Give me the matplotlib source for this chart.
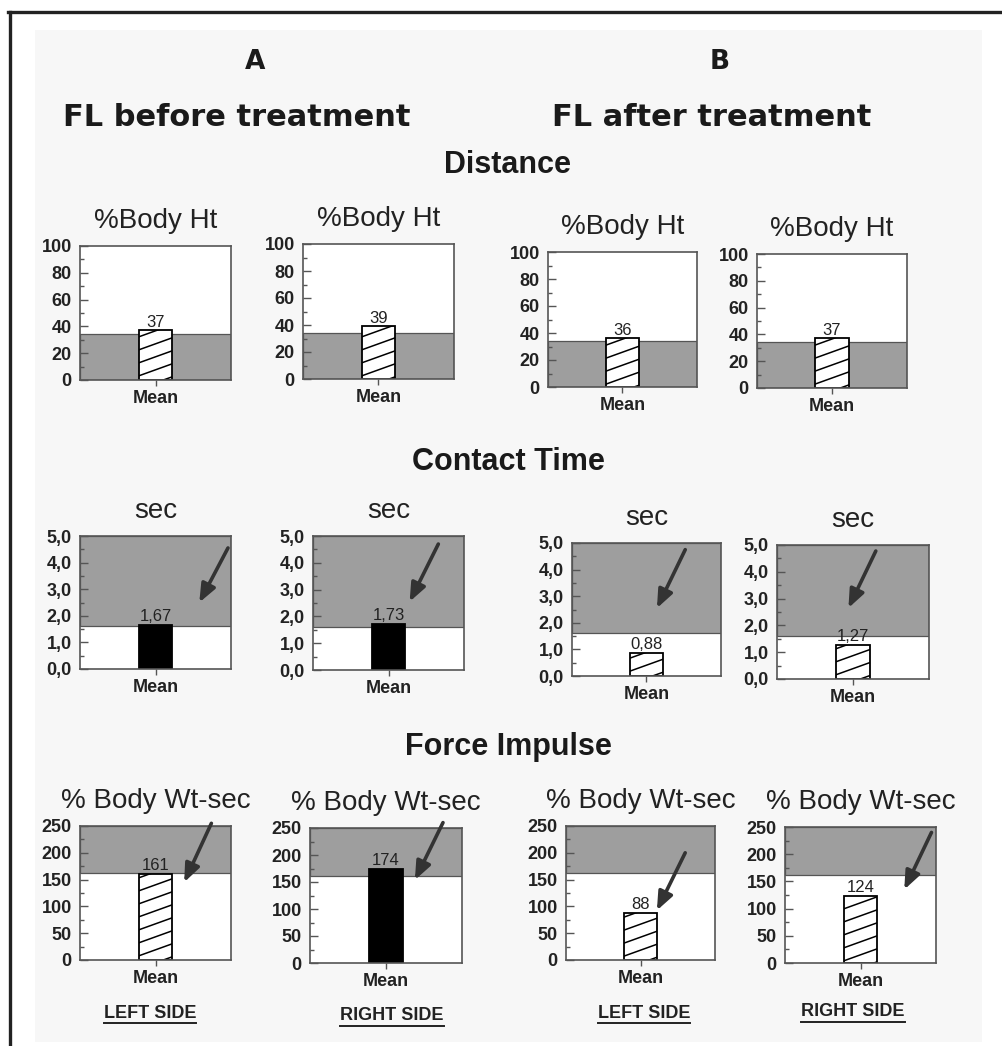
import numpy as np
import matplotlib
matplotlib.use('Agg')
import matplotlib.pyplot as plt
from matplotlib.ticker import MultipleLocator, FuncFormatter
from matplotlib.lines import Line2D
from matplotlib.patches import Rectangle

plt.rcParams['font.family'] = ['Liberation Sans', 'DejaVu Sans']

# data (columns: A left, A right, B left, B right)
distance_means = [37, 39, 36, 37]
contact_means = [1.67, 1.73, 0.88, 1.27]
impulse_means = [161, 174, 88, 124]

distance_normal = (0, 34)
contact_normal = (1.6, 5.0)
impulse_normal = (162, 250)

distance_solid = [False, False, False, False]
contact_solid = [True, True, False, False]
impulse_solid = [False, True, False, False]

metric_names = ['Distance', 'Contact Time', 'Force Impulse']
unit_labels = ['%Body Ht', 'sec', '% Body Wt-sec']
side_labels = ['LEFT SIDE', 'RIGHT SIDE', 'LEFT SIDE', 'RIGHT SIDE']

W, H = 1003, 1046
fig = plt.figure(figsize=(W / 100, H / 100), dpi=100)
fig.patch.set_facecolor('white')

# light scan background + frame lines
fig.add_artist(Rectangle((35 / W, 1 - 1042 / H), (982 - 35) / W, (1042 - 30) / H,
                         transform=fig.transFigure, fc='#f7f7f7', ec='none', zorder=-10))
fig.add_artist(Line2D([8 / W, 1], [1 - 12 / H] * 2, color='#222222', lw=2.4))
fig.add_artist(Line2D([10 / W] * 2, [1 - 12 / H, 0], color='#222222', lw=2.4))

# axes boxes in pixels (x0, top, x1, bottom)
boxes = [
    [(80, 246, 231, 380), (303, 244, 454, 379), (548, 252, 697, 387), (757, 254, 907, 388)],
    [(80, 536, 231, 669), (313, 536, 464, 670), (572, 543, 721, 676), (777, 545, 929, 679)],
    [(80, 826, 231, 960), (310, 828, 462, 963), (566, 826, 715, 960), (785, 827, 936, 963)],
]

# arrow (tail, head) in axes fraction
arrows = [
    [None, None, None, None],
    [((0.98, 0.91), (0.79, 0.50)), ((0.83, 0.94), (0.64, 0.51)),
     ((0.76, 0.95), (0.57, 0.51)), ((0.65, 0.955), (0.47, 0.53))],
    [((0.87, 1.02), (0.69, 0.58)), ((0.875, 1.04), (0.69, 0.615)),
     ((0.80, 0.80), (0.61, 0.37)), ((0.97, 0.96), (0.79, 0.54))],
]

rows = [
    (distance_means, distance_normal, distance_solid, 100, 20, 10,
     lambda v: f'{v:.0f}', lambda v, p: f'{v:.0f}'),
    (contact_means, contact_normal, contact_solid, 5.0, 1.0, 0.5,
     lambda v: f'{v:.2f}'.replace('.', ','), lambda v, p: f'{v:.1f}'.replace('.', ',')),
    (impulse_means, impulse_normal, impulse_solid, 250, 50, 25,
     lambda v: f'{v:.0f}', lambda v, p: f'{v:.0f}'),
]

gray = '#9e9e9e'


def px_axes(x0, y0, x1, y1):
    return fig.add_axes([x0 / W, 1 - y1 / H, (x1 - x0) / W, (y1 - y0) / H])


def hatch_bar(ax, bar, box, spacing_px=13, slope_px=0.36):
    w_px = box[2] - box[0]
    h_px = box[3] - box[1]
    slope = slope_px * w_px / h_px
    step = spacing_px / h_px
    for y0 in np.arange(-1.0, 1.2, step):
        ln = Line2D([0, 1], [y0, y0 + slope], transform=ax.transAxes,
                    color='black', lw=1.1, zorder=4)
        ax.add_line(ln)
        ln.set_clip_path(bar)


for r, (means, normal, solid, ymax, major, minor, vfmt, tfmt) in enumerate(rows):
    for c in range(4):
        box = boxes[r][c]
        ax = px_axes(*box)
        ax.set_facecolor('white')
        ax.axhspan(normal[0], normal[1], fc=gray, ec='#555555', lw=0.9, zorder=0)
        bar = ax.bar(0, means[c], width=0.45,
                     color='black' if solid[c] else 'white',
                     edgecolor='black', lw=1.3, zorder=3)[0]
        if not solid[c]:
            hatch_bar(ax, bar, box)
        ax.annotate(vfmt(means[c]), (0, means[c]), xytext=(0, 0.5),
                    textcoords='offset points', ha='center', va='bottom',
                    fontsize=12, color='#222222', zorder=6)
        ax.set_xlim(-1, 1)
        ax.set_ylim(0, ymax)
        ax.set_xticks([0])
        ax.set_xticklabels(['Mean'], fontsize=13, fontweight='bold', color='#222222')
        ax.tick_params(axis='x', direction='out', length=4, width=1, pad=3, color='#555555')
        ax.yaxis.set_major_locator(MultipleLocator(major))
        ax.yaxis.set_minor_locator(MultipleLocator(minor))
        ax.yaxis.set_major_formatter(FuncFormatter(tfmt))
        ax.tick_params(axis='y', which='major', direction='in', length=6, width=1,
                       labelsize=13, pad=6, color='#555555', labelcolor='#222222')
        ax.tick_params(axis='y', which='minor', direction='in', length=3, width=1,
                       color='#555555')
        for lab in ax.get_yticklabels():
            lab.set_fontweight('bold')
        for sp in ax.spines.values():
            sp.set_color('#555555')
            sp.set_linewidth(1.2)
            sp.set_zorder(5)
        ax.set_title(unit_labels[r], fontsize=20, pad=13, color='#222222')
        if arrows[r][c] is not None:
            tail, head = arrows[r][c]
            ax.annotate('', xy=head, xytext=tail, xycoords='axes fraction',
                        textcoords='axes fraction', annotation_clip=False,
                        arrowprops=dict(arrowstyle='-|>,head_length=1.1,head_width=0.45',
                                        color='#333333', lw=2.6, shrinkA=0, shrinkB=0),
                        zorder=7)

# headings
fig.text(255 / W, 1 - 62 / H, 'A', ha='center', va='center', fontsize=19,
         fontweight='bold', family='DejaVu Sans', color='#1a1a1a')
fig.text(720 / W, 1 - 62 / H, 'B', ha='center', va='center', fontsize=19,
         fontweight='bold', family='DejaVu Sans', color='#1a1a1a')
fig.text(237 / W, 1 - 118 / H, 'FL before treatment', ha='center', va='center',
         fontsize=22, fontweight='bold', family='DejaVu Sans', color='#1a1a1a')
fig.text(712 / W, 1 - 118 / H, 'FL after treatment', ha='center', va='center',
         fontsize=22, fontweight='bold', family='DejaVu Sans', color='#1a1a1a')

for name, y in zip(metric_names, [165, 462, 747]):
    fig.text(508 / W, 1 - y / H, name, ha='center', va='center', fontsize=22,
             fontweight='bold', color='#1a1a1a')

side_pos = [(150, 1013), (392, 1016), (644, 1013), (853, 1012)]
side_texts = []
for lab, (x, y) in zip(side_labels, side_pos):
    side_texts.append(fig.text(x / W, 1 - y / H, lab, ha='center', va='center',
                               fontsize=13, fontweight='bold', color='#222222'))

fig.canvas.draw()
renderer = fig.canvas.get_renderer()
for t in side_texts:
    bb = t.get_window_extent(renderer)
    yline = (bb.y0 - 1) / H
    fig.add_artist(Line2D([bb.x0 / W, bb.x1 / W], [yline, yline], color='#222222', lw=1.4))

fig.savefig('out.png', dpi=100, facecolor=fig.get_facecolor())
